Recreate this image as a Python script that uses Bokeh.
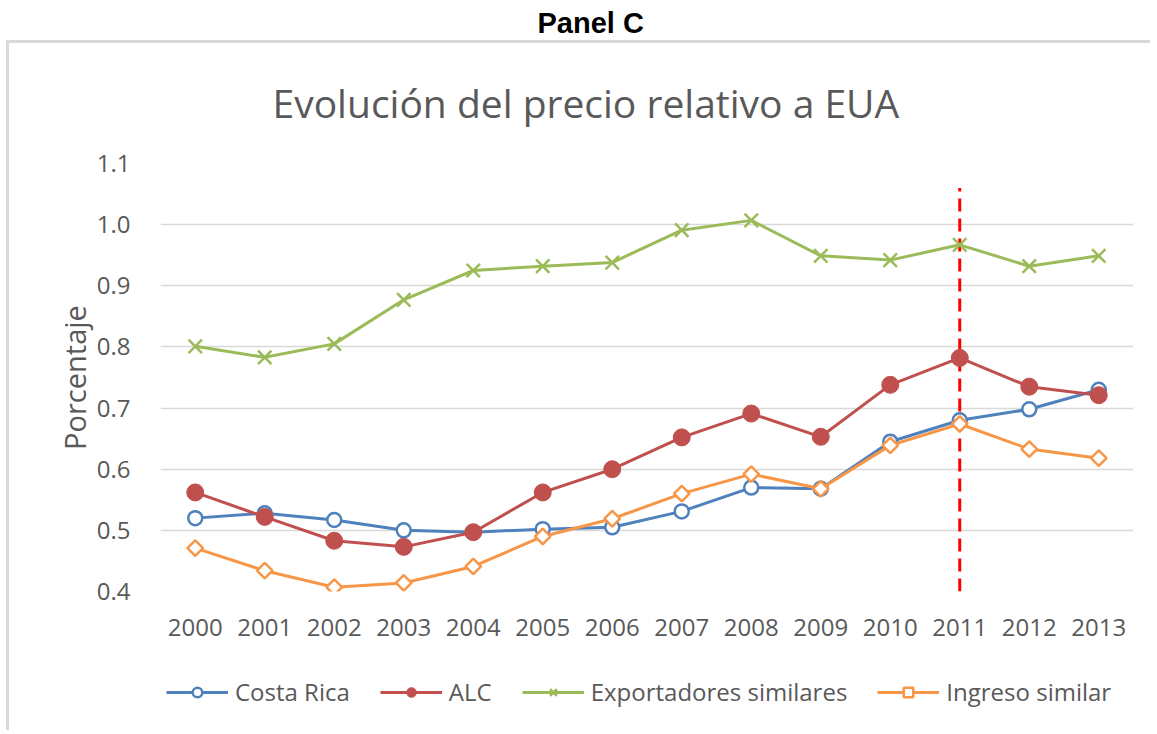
from bokeh.plotting import figure
from bokeh.layouts import column
from bokeh.models import (FixedTicker, PrintfTickFormatter, Legend, LegendItem,
                          Title, Range1d, ColumnDataSource)
from bokeh.embed import file_html
from bokeh.resources import INLINE

# ---------------- data ----------------
years = [2000, 2001, 2002, 2003, 2004, 2005, 2006, 2007, 2008, 2009, 2010, 2011, 2012, 2013]
costa_rica = [0.520, 0.528, 0.517, 0.500, 0.497, 0.502, 0.505, 0.531, 0.570, 0.568, 0.645, 0.680, 0.698, 0.730]
alc = [0.562, 0.522, 0.483, 0.473, 0.497, 0.562, 0.600, 0.652, 0.691, 0.653, 0.738, 0.782, 0.735, 0.721]
exportadores = [0.801, 0.783, 0.805, 0.877, 0.925, 0.932, 0.938, 0.991, 1.007, 0.949, 0.942, 0.967, 0.932, 0.949]
ingreso = [0.471, 0.434, 0.407, 0.414, 0.441, 0.490, 0.519, 0.560, 0.592, 0.568, 0.639, 0.674, 0.633, 0.618]
y_ticks = [0.4, 0.5, 0.6, 0.7, 0.8, 0.9, 1.0, 1.1]
series_names = ["Costa Rica", "ALC", "Exportadores similares", "Ingreso similar"]
cutoff_year = [2011]
cutoff_bottom = [0.4]
cutoff_top = [1.06]

FONT = "Open Sans"
GRAY = "#595959"

border_css = """
:host { position: relative; }
:host::after {
  content: "";
  position: absolute;
  left: 6px;
  top: 40px;
  width: 1144px;
  height: 610px;
  border-left: 3px solid #d9d9d9;
  border-top: 3px solid #d9d9d9;
  box-sizing: border-box;
  pointer-events: none;
}
"""
legend_border_css = """
:host { position: relative; }
:host::after {
  content: "";
  position: absolute;
  left: 6px;
  top: 0px;
  width: 10px;
  height: 80px;
  border-left: 3px solid #d9d9d9;
  box-sizing: border-box;
  pointer-events: none;
}
"""

p = figure(width=1150, height=650, output_backend="svg", toolbar_location=None,
           x_range=Range1d(1999.5, 2013.5), y_range=Range1d(0.4, 1.1),
           min_border_left=160, min_border_right=17, min_border_top=163,
           min_border_bottom=59, title=None, stylesheets=[border_css])

p.outline_line_color = None
p.background_fill_color = "white"
p.border_fill_color = "white"

# axes
p.yaxis.ticker = FixedTicker(ticks=y_ticks)
p.yaxis.formatter = PrintfTickFormatter(format="%.1f")
p.xaxis.ticker = FixedTicker(ticks=years)
p.xaxis.formatter = PrintfTickFormatter(format="%d")
for ax in (p.xaxis, p.yaxis):
    ax.axis_line_color = None
    ax.major_tick_line_color = None
    ax.minor_tick_line_color = None
    ax.major_label_text_font = FONT
    ax.major_label_text_font_size = "24px"
    ax.major_label_text_color = GRAY
p.yaxis.major_label_standoff = 24
p.xaxis.major_label_standoff = 21
p.yaxis.axis_label = "Porcentaje"
p.yaxis.axis_label_text_font = FONT
p.yaxis.axis_label_text_font_size = "29px"
p.yaxis.axis_label_text_font_style = "normal"
p.yaxis.axis_label_text_color = GRAY
p.yaxis.axis_label_standoff = 0

p.xgrid.grid_line_color = None
p.ygrid.grid_line_color = "#d9d9d9"
p.ygrid.grid_line_width = 1.5

# titles
p.add_layout(Title(text="Evolución del precio relativo a EUA", text_font=FONT,
                   text_font_size="39px", text_font_style="normal",
                   text_color=GRAY, align="left", offset=112, standoff=70), "above")
p.add_layout(Title(text="Panel C", text_font="Liberation Sans",
                   text_font_size="29px", text_font_style="bold",
                   text_color="black", align="left", offset=377, standoff=0), "above")

# cutoff line
p.segment(x0=cutoff_year, x1=cutoff_year, y0=cutoff_bottom, y1=cutoff_top,
          line_color="#ff0000", line_width=3, line_dash="13 7")

src = ColumnDataSource(dict(x=years, cr=costa_rica, alc=alc, ex=exportadores, ing=ingreso))

styles = [
    ("cr", dict(line_color="#4F81BD"), dict(marker="circle", size=14, line_color="#4F81BD",
                                            line_width=2.5, fill_color="white")),
    ("alc", dict(line_color="#C0504D"), dict(marker="circle", size=17, line_color="#C0504D",
                                             fill_color="#C0504D")),
    ("ex", dict(line_color="#9BBB59"), dict(marker="x", size=19, line_color="#9BBB59",
                                            line_width=2.5)),
    ("ing", dict(line_color="#F79646"), dict(marker="square", angle=0.785398, size=11,
                                             line_color="#F79646", line_width=2.5,
                                             fill_color="white")),
]

for col, lkw, mkw in styles:
    p.line("x", col, source=src, line_width=3, **lkw)
    p.scatter("x", col, source=src, **mkw)

# legend figure (below the chart); its renderers use the same data, out of view
lf = figure(width=1150, height=80, output_backend="svg", toolbar_location=None,
            x_range=Range1d(0, 1), y_range=Range1d(0, 1),
            x_axis_type=None, y_axis_type=None, min_border=0,
            min_border_left=0, min_border_right=0, min_border_top=0, min_border_bottom=0,
            stylesheets=[legend_border_css])
lf.outline_line_color = None
lf.background_fill_color = "white"
lf.border_fill_color = "white"

items = []
for name, (col, lkw, mkw) in zip(series_names, styles):
    lr = lf.line("x", col, source=src, line_width=3, **lkw)
    mr = lf.scatter("x", col, source=src, **mkw)
    items.append(LegendItem(label=name, renderers=[lr, mr]))

legend = Legend(items=items, orientation="horizontal", location=(6, 22),
                label_text_font=FONT, label_text_font_size="24px",
                label_text_color=GRAY, glyph_width=62, glyph_height=24,
                spacing=30, label_standoff=7, border_line_color=None,
                background_fill_alpha=0, padding=0, margin=0)
lf.add_layout(legend, "center")

layout = column(p, lf, spacing=0)
open("out.html", "w").write(file_html(layout, INLINE))
